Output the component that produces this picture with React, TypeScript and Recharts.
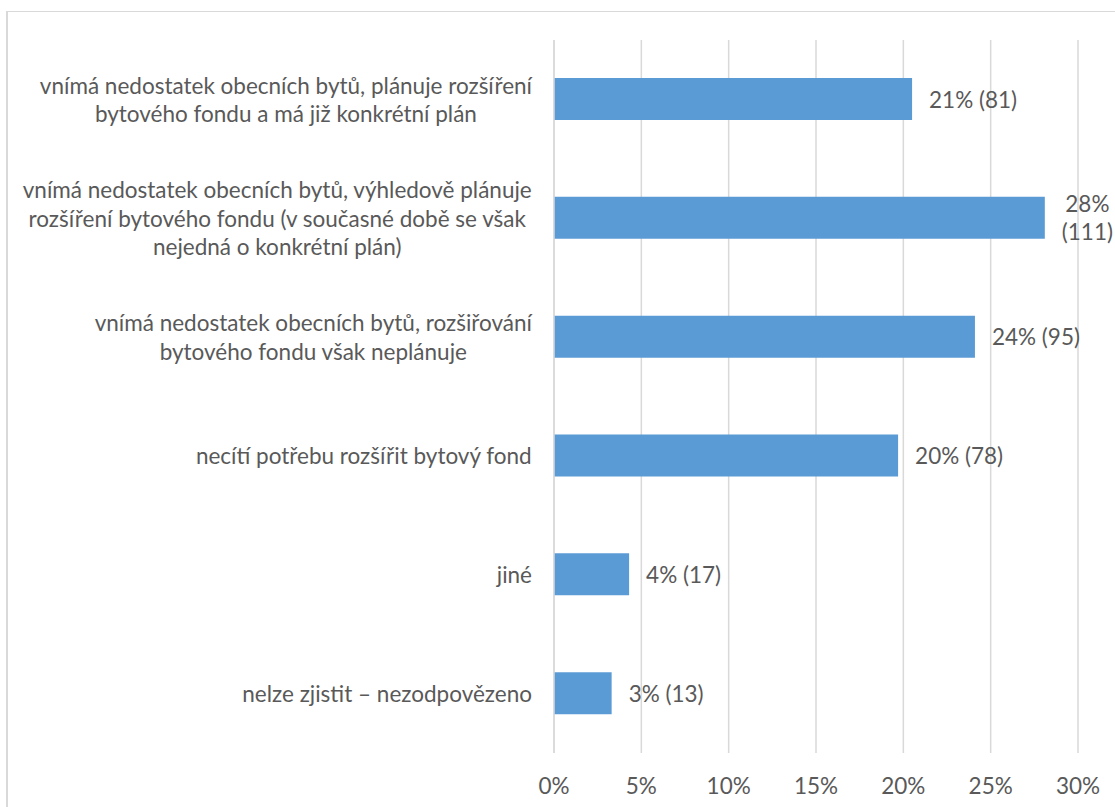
import React from 'react';
import { BarChart, Bar, XAxis, YAxis, CartesianGrid, LabelList } from 'recharts';

const categories = [
  'vnímá nedostatek obecních bytů, plánuje rozšíření\nbytového fondu a má již konkrétní plán',
  'vnímá nedostatek obecních bytů, výhledově plánuje\nrozšíření bytového fondu (v současné době se však\nnejedná o konkrétní plán)',
  'vnímá nedostatek obecních bytů, rozšiřování\nbytového fondu však neplánuje',
  'necítí potřebu rozšířit bytový fond',
  'jiné',
  'nelze zjistit – nezodpovězeno',
];
const shares = [20.5, 28.1, 24.1, 19.7, 4.3, 3.3];
const shareLabels = ['21%', '28%', '24%', '20%', '4%', '3%'];
const counts = [81, 111, 95, 78, 17, 13];
const xTicks = [0, 5, 10, 15, 20, 25, 30];

const data = categories.map((name, i) => ({
  name,
  value: shares[i],
  label: `${shareLabels[i]} (${counts[i]})`,
  pct: shareLabels[i],
  count: `(${counts[i]})`,
}));

const FONT = 'Lato, "Open Sans", sans-serif';
const FS = 22.5;
const TXT = '#595959';
const CHART_W = 1115;

let ctx: CanvasRenderingContext2D | null = null;
function textWidth(s: string) {
  if (!ctx) ctx = document.createElement('canvas').getContext('2d');
  if (!ctx) return s.length * FS * 0.5;
  ctx.font = `${FS}px Lato`;
  return ctx.measureText(s).width;
}

const CategoryTick = (props: any) => {
  const { x, y, payload } = props;
  const lines: string[] = String(payload.value).split('\n');
  const maxW = Math.max(...lines.map(textWidth));
  const cx = x - maxW / 2;
  const lh = 28.5;
  const y0 = y - ((lines.length - 1) * lh) / 2;
  return (
    <g>
      {lines.map((l, i) => (
        <text
          key={i}
          x={cx}
          y={y0 + i * lh}
          textAnchor="middle"
          dominantBaseline="central"
          fill={TXT}
          fontSize={FS}
          fontFamily={FONT}
        >
          {l}
        </text>
      ))}
    </g>
  );
};

const PercentTick = (props: any) => {
  const { x, y, payload } = props;
  return (
    <text
      x={x}
      y={y}
      textAnchor="middle"
      dominantBaseline="central"
      fill={TXT}
      fontSize={FS}
      fontFamily={FONT}
    >
      {payload.value}%
    </text>
  );
};

const ValueLabel = (props: any) => {
  const { x, y, width, height, index } = props;
  const d = data[index];
  const left = x + width + 17;
  const cy = y + height / 2;
  const full = textWidth(d.label);
  if (left + full > CHART_W - 4) {
    const w = Math.max(textWidth(d.pct), textWidth(d.count));
    const cx = left + w / 2;
    return (
      <g fill={TXT} fontSize={FS} fontFamily={FONT}>
        <text x={cx} y={cy - 14} textAnchor="middle" dominantBaseline="central">
          {d.pct}
        </text>
        <text x={cx} y={cy + 14} textAnchor="middle" dominantBaseline="central">
          {d.count}
        </text>
      </g>
    );
  }
  return (
    <text
      x={left}
      y={cy}
      textAnchor="start"
      dominantBaseline="central"
      fill={TXT}
      fontSize={FS}
      fontFamily={FONT}
    >
      {d.label}
    </text>
  );
};

export default function App() {
  return (
    <div style={{ position: 'fixed', inset: 0, overflow: 'hidden', background: '#fff' }}>
      <div
        style={{
          position: 'absolute',
          left: 6,
          top: 11,
          width: 1200,
          height: 900,
          borderTop: '1px solid #d9d9d9',
          borderLeft: '2px solid #d9d9d9',
        }}
      />
      <div style={{ position: 'absolute', left: 0, top: 0 }}>
        <BarChart
          width={CHART_W}
          height={807}
          data={data}
          layout="vertical"
          margin={{ top: 40, right: 37, bottom: 14, left: 0 }}
          barCategoryGap={0}
        >
          <CartesianGrid horizontal={false} stroke="#d9d9d9" strokeWidth={1.5} />
          <XAxis
            type="number"
            domain={[0, 30]}
            ticks={xTicks}
            axisLine={false}
            tickLine={false}
            height={40}
            tick={(p: any) => <PercentTick {...p} y={p.y + 24} />}
            interval={0}
          />
          <YAxis
            type="category"
            dataKey="name"
            width={554}
            axisLine={{ stroke: '#d9d9d9', strokeWidth: 1.5 }}
            tickLine={false}
            tickSize={0}
            tickMargin={22}
            tick={<CategoryTick />}
            interval={0}
          />
          <Bar dataKey="value" fill="#5b9bd5" barSize={42} isAnimationActive={false}>
            <LabelList dataKey="label" content={<ValueLabel />} />
          </Bar>
        </BarChart>
      </div>
    </div>
  );
}
